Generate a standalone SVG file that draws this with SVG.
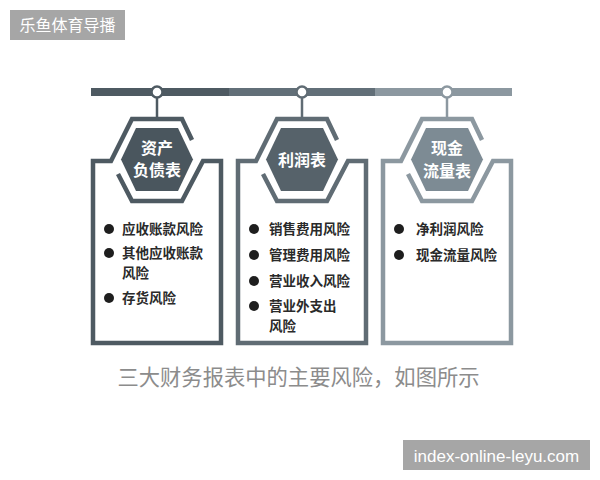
<svg xmlns="http://www.w3.org/2000/svg" width="600" height="480" viewBox="0 0 600 480">
<style>
.frame{fill:none;stroke-width:4.5;stroke-linejoin:miter}
.stem{stroke-width:2.5}
.knob{fill:#fff;stroke-width:2.5}
.ht{font-family:"Noto Sans CJK SC","Liberation Sans",sans-serif;font-size:16px;font-weight:700;fill:#fff;text-anchor:middle}
.it{font-family:"Noto Sans CJK SC","Liberation Sans",sans-serif;font-size:13.5px;font-weight:700;fill:#2a2a2a}
.dot{fill:#1e1e1e}
.c1{stroke:#4e5a62}.c2{stroke:#606c74}.c3{stroke:#8c98a0}
</style>
<rect width="600" height="480" fill="#fff"/>
<g id="watermark-top">
<rect x="10" y="10" width="115" height="30" fill="#a6a6a6"/>
<text x="67.5" y="31" font-family="Noto Sans CJK SC,Liberation Sans,sans-serif" font-size="16" fill="#fff" text-anchor="middle">乐鱼体育导播</text>
</g>
<g id="connectors">
<rect x="91" y="88" width="138" height="8" fill="#4e5a62"/>
<rect x="229" y="88" width="146" height="8" fill="#626f78"/>
<rect x="375" y="88" width="137" height="8" fill="#8c98a0"/>
</g>
<g id="card-balance" transform="translate(157,0)">
<line class="stem c1" x1="0" y1="97" x2="0" y2="119"/>
<circle class="knob c1" cx="0" cy="92" r="5.5"/>
<path class="frame c1" d="M35,140 L25,119 L-25,119 L-46,161 L-64,161 L-64,343 L64,343 L64,161 L46,161 L25,201 L-25,201 L-39,174"/>
<polygon points="-21,128 21,128 36,159.5 21,191 -21,191 -36,159.5" fill="#4a565e"/>
<text class="ht" x="0" y="154">资产</text>
<text class="ht" x="0" y="176">负债表</text>
<circle class="dot" cx="-48" cy="229" r="5"/>
<text class="it" x="-35" y="234">应收账款风险</text>
<circle class="dot" cx="-48" cy="253" r="5"/>
<text class="it" x="-35" y="258">其他应收账款</text>
<text class="it" x="-35" y="278">风险</text>
<circle class="dot" cx="-48" cy="298" r="5"/>
<text class="it" x="-35" y="303">存货风险</text>
</g>
<g id="card-income" transform="translate(302,0)">
<line class="stem c2" x1="0" y1="97" x2="0" y2="119"/>
<circle class="knob c2" cx="0" cy="92" r="5.5"/>
<path class="frame c2" d="M35,140 L25,119 L-25,119 L-46,161 L-64,161 L-64,343 L64,343 L64,161 L46,161 L25,201 L-25,201 L-39,174"/>
<polygon points="-21,128 21,128 36,159.5 21,191 -21,191 -36,159.5" fill="#56626a"/>
<text class="ht" x="0" y="166">利润表</text>
<circle class="dot" cx="-48" cy="229" r="5"/>
<text class="it" x="-33" y="234">销售费用风险</text>
<circle class="dot" cx="-48" cy="255" r="5"/>
<text class="it" x="-33" y="260">管理费用风险</text>
<circle class="dot" cx="-48" cy="281" r="5"/>
<text class="it" x="-33" y="286">营业收入风险</text>
<circle class="dot" cx="-48" cy="306" r="5"/>
<text class="it" x="-33" y="311">营业外支出</text>
<text class="it" x="-33" y="331">风险</text>
</g>
<g id="card-cashflow" transform="translate(447,0)">
<line class="stem c3" x1="0" y1="97" x2="0" y2="119"/>
<circle class="knob c3" cx="0" cy="92" r="5.5"/>
<path class="frame c3" d="M35,140 L25,119 L-25,119 L-46,161 L-64,161 L-64,343 L64,343 L64,161 L46,161 L25,201 L-25,201 L-39,174"/>
<polygon points="-21,128 21,128 36,159.5 21,191 -21,191 -36,159.5" fill="#7d8b94"/>
<text class="ht" x="0" y="154">现金</text>
<text class="ht" x="0" y="177">流量表</text>
<circle class="dot" cx="-48" cy="229" r="5"/>
<text class="it" x="-31" y="234">净利润风险</text>
<circle class="dot" cx="-48" cy="255" r="5"/>
<text class="it" x="-31" y="260">现金流量风险</text>
</g>
<g id="caption">
<text x="298.5" y="385" font-family="Noto Sans CJK SC,Liberation Sans,sans-serif" font-size="21.3" fill="#8c8c8c" text-anchor="middle">三大财务报表中的主要风险，如图所示</text>
</g>
<g id="watermark-bottom">
<rect x="403" y="440" width="187" height="30" fill="#a6a6a6"/>
<text x="496.5" y="461.5" font-family="Liberation Sans,sans-serif" font-size="17" fill="#fff" text-anchor="middle">index-online-leyu.com</text>
</g>
</svg>
